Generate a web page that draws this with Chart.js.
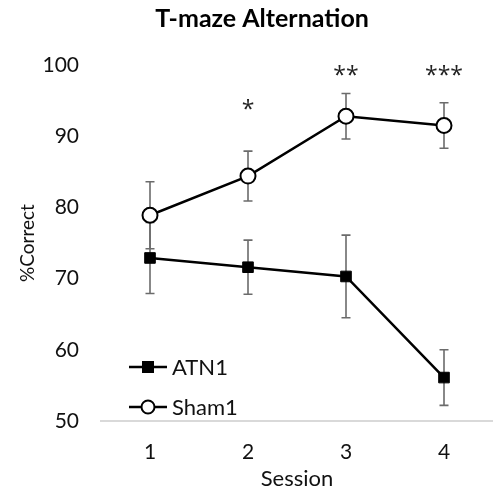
<!DOCTYPE html>
<html>
<head>
<meta charset="utf-8">
<script src="https://cdn.jsdelivr.net/npm/chart.js@4"></script>
<style>
  html, body { margin: 0; padding: 0; background: #fff; overflow: hidden; }
  #wrap { width: 493px; height: 492px; }
</style>
</head>
<body>
<div id="wrap"><canvas id="mazeChart" width="493" height="492"></canvas></div>
<script>
const sessions = ["1", "2", "3", "4"];
const atnMeans = [72.9, 71.6, 70.3, 56.1];
const atnErr = [5.0, 3.8, 5.8, 3.9];
const shamMeans = [78.9, 84.4, 92.8, 91.5];
const shamErr = [4.7, 3.5, 3.2, 3.2];
const sigMarks = ["", "*", "**", "***"];
const sigLevel = [null, 94.0, 98.8, 98.8];
const yTicks = [50, 60, 70, 80, 90, 100];

const FONT = "Lato, 'Open Sans', sans-serif";
const STAR_FONT = "'Open Sans', sans-serif";

// error bars go under the lines and markers
const errorBars = {
    id: "errorBars",
    beforeDatasetsDraw(chart) {
        const ctx = chart.ctx;
        const y = chart.scales.y;
        ctx.save();
        ctx.strokeStyle = "#6b6b6b";
        ctx.lineWidth = 1.6;
        chart.data.datasets.forEach((ds, i) => {
            const meta = chart.getDatasetMeta(i);
            meta.data.forEach((pt, j) => {
                const v = ds.data[j];
                const e = ds.errors[j];
                const top = y.getPixelForValue(v + e);
                const bot = y.getPixelForValue(v - e);
                ctx.beginPath();
                ctx.moveTo(pt.x, top);
                ctx.lineTo(pt.x, bot);
                ctx.moveTo(pt.x - 4.5, top);
                ctx.lineTo(pt.x + 4.5, top);
                ctx.moveTo(pt.x - 4.5, bot);
                ctx.lineTo(pt.x + 4.5, bot);
                ctx.stroke();
            });
        });
        ctx.restore();
    }
};

const extras = {
    id: "extras",
    afterDraw(chart) {
        const ctx = chart.ctx;
        const x = chart.scales.x;
        const y = chart.scales.y;
        ctx.save();
        // title
        ctx.fillStyle = "#000";
        ctx.font = "bold 25px " + FONT;
        ctx.textAlign = "center";
        ctx.textBaseline = "middle";
        ctx.fillText("T-maze Alternation", 262, 19);

        // significance stars
        ctx.font = "23px " + STAR_FONT;
        ctx.fillStyle = "#222";
        sigMarks.forEach((s, i) => {
            if (!s) return;
            ctx.fillText(s, x.getPixelForValue(i), y.getPixelForValue(sigLevel[i]) + 3);
        });

        // legend inside the plot, bottom left
        const rows = [
            { ds: chart.data.datasets[0], yv: 367 },
            { ds: chart.data.datasets[1], yv: 407 }
        ];
        ctx.font = "22px " + FONT;
        ctx.textAlign = "left";
        rows.forEach(r => {
            const cx = 148;
            ctx.strokeStyle = "#000";
            ctx.lineWidth = 2.5;
            ctx.beginPath();
            ctx.moveTo(129, r.yv);
            ctx.lineTo(167, r.yv);
            ctx.stroke();
            ctx.lineWidth = 2;
            if (r.ds.pointStyle === "rect") {
                ctx.fillStyle = "#000";
                ctx.fillRect(cx - 6, r.yv - 6, 12, 12);
            } else {
                ctx.beginPath();
                ctx.arc(cx, r.yv, 6.5, 0, Math.PI * 2);
                ctx.fillStyle = "#fff";
                ctx.fill();
                ctx.stroke();
            }
            ctx.fillStyle = "#111";
            ctx.fillText(r.ds.label, 172, r.yv + 1);
        });
        ctx.restore();
    }
};

new Chart(document.getElementById("mazeChart").getContext("2d"), {
    type: "line",
    data: {
        labels: sessions,
        datasets: [
            {
                label: "ATN1",
                data: atnMeans,
                errors: atnErr,
                borderColor: "#000",
                borderWidth: 2.5,
                pointStyle: "rect",
                pointRadius: 7.5,
                pointBackgroundColor: "#000",
                pointBorderColor: "#000",
                pointBorderWidth: 1
            },
            {
                label: "Sham1",
                data: shamMeans,
                errors: shamErr,
                borderColor: "#000",
                borderWidth: 2.5,
                pointStyle: "circle",
                pointRadius: 7.5,
                pointBackgroundColor: "#fff",
                pointBorderColor: "#000",
                pointBorderWidth: 2
            }
        ]
    },
    options: {
        responsive: false,
        animation: false,
        devicePixelRatio: 1,
        layout: { autoPadding: false, padding: { top: 65, right: -4, left: 0, bottom: 0 } },
        plugins: {
            legend: { display: false },
            title: { display: false },
            tooltip: { enabled: false }
        },
        scales: {
            x: {
                offset: true,
                grid: { display: false, drawTicks: false },
                border: { display: true, color: "#d9d9d9", width: 2 },
                ticks: { color: "#111", font: { family: FONT, size: 21 }, padding: 19 },
                title: { display: true, text: "Session", color: "#111", font: { family: FONT, size: 22 }, padding: { top: 0, bottom: 0 } },
                afterFit(scale) {
                    scale.height = 71;
                    scale.paddingLeft = 0;
                    scale.paddingRight = 0;
                }
            },
            y: {
                min: 50,
                max: 100,
                afterBuildTicks(scale) { scale.ticks = yTicks.map(v => ({ value: v })); },
                grid: { display: false, drawTicks: false },
                border: { display: false },
                ticks: { color: "#111", font: { family: FONT, size: 21 }, padding: 22 },
                title: { display: true, text: "%Correct", color: "#111", font: { family: FONT, size: 19 }, padding: { top: 16, bottom: 0 } },
                afterFit(scale) { scale.width = 101; }
            }
        }
    },
    plugins: [errorBars, extras]
});
</script>
</body>
</html>
